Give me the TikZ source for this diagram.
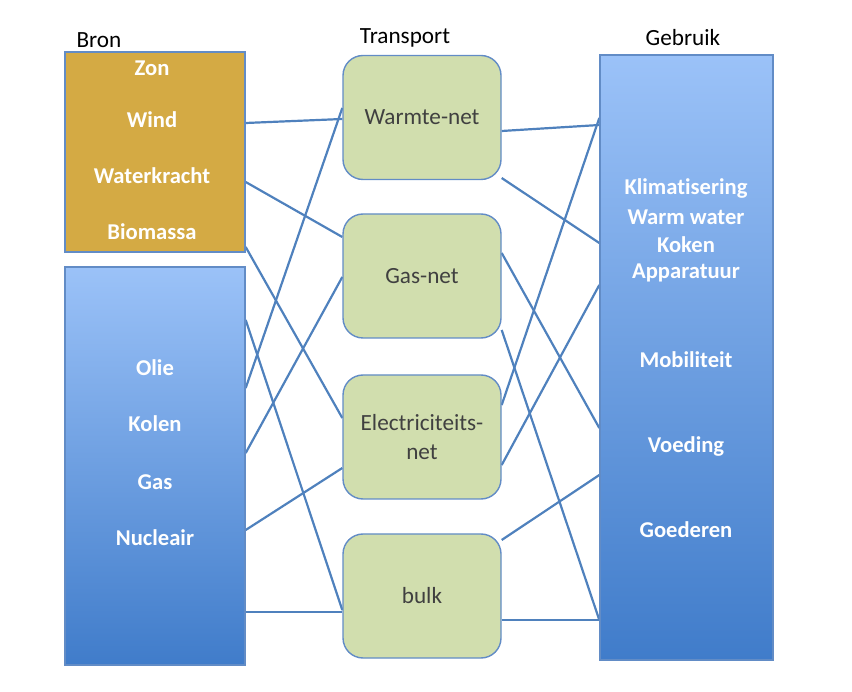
\documentclass[tikz,border=0pt]{standalone}
\usepackage{fontspec}
\setmainfont{Carlito}[Ligatures=CommonOff]
\usetikzlibrary{backgrounds}

\definecolor{linkblue}{RGB}{79,129,189}
\definecolor{boxedge}{RGB}{98,140,198}
\definecolor{gold}{RGB}{212,170,68}
\definecolor{netgreen}{RGB}{209,222,174}
\definecolor{skytop}{RGB}{155,194,248}
\definecolor{skybot}{RGB}{64,124,202}
\definecolor{darktext}{RGB}{64,64,64}

\tikzset{
  srcbox/.style={draw=boxedge, line width=1.4pt, minimum width=180pt, inner sep=0pt},
  netbox/.style={draw=boxedge, line width=1.4pt, fill=netgreen, rounded corners=20pt,
    minimum width=158pt, minimum height=124pt, text=darktext, align=center},
  link/.style={draw=linkblue, line width=2.2pt},
  lbl/.style={text=white, font=\fontsize{22.6}{26}\selectfont\bfseries},
  head/.style={text=black}
}

\begin{document}
\begin{tikzpicture}[x=1pt, y=-1pt, font=\fontsize{23.2}{28}\selectfont]
  \useasboundingbox (0,0) rectangle (852,692);

  % bron
  \node [srcbox, fill=gold, minimum height=200pt] (ren) at (155,152) {};
  \node [srcbox, top color=skytop, bottom color=skybot, minimum height=398pt] (fos) at (155,466) {};
  % gebruik
  \node [srcbox, top color=skytop, bottom color=skybot, minimum width=173pt,
    minimum height=605pt] (use) at (686.5,357.5) {};

  \node [head] (bron) at (99,40) {Bron};
  \node [head] (trans) at (405,38) {Transport};
  \node [head] (gebr) at (683,38) {Gebruik};

  % transport
  \node [netbox] (warm) at (422,117.5) {Warmte-net};
  \node [netbox] (gas) at (422,276) {Gas-net};
  \node [netbox] (elec) at (422,437) {Electriciteits-\\[1pt]net};
  \node [netbox] (bulk) at (422,596) {bulk};

  \foreach \txt/\y [count=\i] in {Zon/68, Wind/120, Waterkracht/176, Biomassa/232}
    \node [lbl] (ren\i) at (152,\y) {\txt};
  \foreach \txt/\y [count=\i] in {Olie/368, Kolen/424, Gas/482, Nucleair/538}
    \node [lbl] (fos\i) at (155,\y) {\txt};
  \foreach \txt/\y [count=\i] in {Klimatisering/188, Warm water/217, Koken/245,
      Apparatuur/273, Mobiliteit/360, Voeding/446, Goederen/530}
    \node [lbl] (use\i) at (686,\y) {\txt};

  \begin{scope}[on background layer]
    % bron -> transport
    \draw [link] (ren.east |- 0,123) -- (warm.west |- 0,119);
    \draw [link] (ren.east |- 0,182) -- (gas.west |- 0,237);
    \draw [link] (ren.east |- 0,247) -- (elec.west |- 0,418);
    \draw [link] (fos.east |- 0,388) -- (warm.west |- 0,108);
    \draw [link] (fos.east |- 0,453) -- (gas.west |- 0,277);
    \draw [link] (fos.east |- 0,320) -- (bulk.west |- 0,610);
    \draw [link] (fos.east |- 0,530) -- (elec.west |- 0,468);
    \draw [link] (fos.east |- 0,612) -- (bulk.west |- 0,612);
    % transport -> gebruik
    \draw [link] (warm.east |- 0,131) -- (use.west |- 0,125);
    \draw [link] (warm.east |- 0,178) -- (use.west |- 0,243);
    \draw [link] (elec.east |- 0,405) -- (use.west |- 0,118);
    \draw [link] (gas.east |- 0,253) -- (use.west |- 0,428);
    \draw [link] (gas.east |- 0,330) -- (use.west |- 0,620);
    \draw [link] (elec.east |- 0,465) -- (use.west |- 0,285);
    \draw [link] (bulk.east |- 0,540) -- (use.west |- 0,475);
    \draw [link] (bulk.east |- 0,620) -- (use.west |- 0,620);
  \end{scope}
\end{tikzpicture}
\end{document}
